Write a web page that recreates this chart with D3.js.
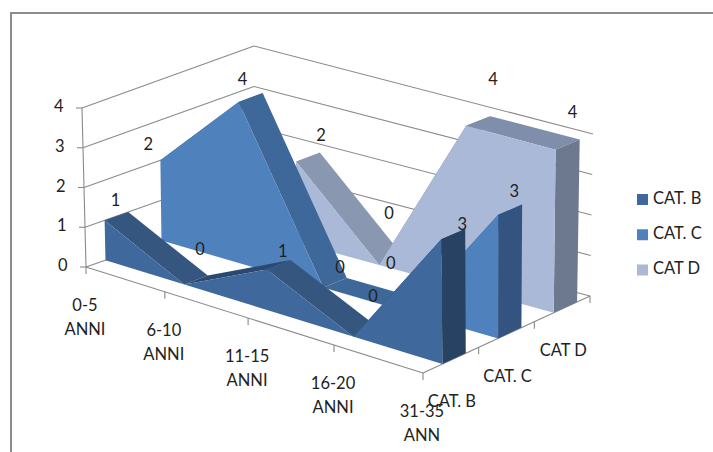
<!DOCTYPE html>
<html>
<head>
<meta charset="utf-8">
<script src="https://cdn.jsdelivr.net/npm/d3@7/dist/d3.min.js"></script>
<style>
html,body{margin:0;padding:0;background:#fff;}
svg{display:block;}
text{font-family:Lato,"Open Sans",sans-serif;fill:#222;}
</style>
</head>
<body>
<svg id="chart" width="713" height="452"></svg>
<script>
// Age bands along the front axis
const categories = ["0-5 ANNI", "6-10 ANNI", "11-15 ANNI", "16-20 ANNI", "31-35 ANN"];
// Series, listed front to back along the depth axis
const seriesNames = ["CAT. B", "CAT. C", "CAT D"];
const legendOrder = ["CAT. B", "CAT. C", "CAT D"];
const depthLabels = ["CAT. B", "CAT. C", "CAT D"];
const catB = [1, 0, 1, 0, 3];
const catC = [2, 4, 0, 0, 3];
const catD = [null, 2, 0, 4, 4];
const valueTicks = [0, 1, 2, 3, 4];

// Face colours per series: front, falling slope, rising slope, end cap
const shades = {
  "CAT. B": {front:"#3f689c", fall:"#35577f", rise:"#2b4870", cap:"#284264"},
  "CAT. C": {front:"#4f81bd", fall:"#3f689a", rise:"#3a5f90", cap:"#335480"},
  "CAT D":  {front:"#aab9d8", fall:"#8a97b0", rise:"#7f8eab", cap:"#6d798e"}
};
const gridColor = "#8a8a8a";
const fontSize = 16.5;

// Label offsets from the middle of each point's top edge
const labelNudge = {
  "CAT. B": [[-1,-14],[4,-29],[4,-12],[8,-34],[9,-8]],
  "CAT. C": [[-24,-10],[-8,-17],[5,-14],[-30,-43],[4,-17]],
  "CAT D":  [[0,0],[13,-20],[-2,-45],[15,-40],[5,-31]]
};

const svg = d3.select("#chart");

// Perspective box: the eight corners of the plot volume
const corners = {
  floor: {fl:[86,267], fr:[423,373], bl:[254,208], br:[590,296]},
  top:   {fl:[82,108], fr:[421,206], bl:[254,46],  br:[593,134]}
};
// Category spacing widens towards the viewer
const uScale = d3.scaleLinear().domain([0, 1, 2, 3, 4]).range([0, 0.234, 0.481, 0.736, 1]);
const vScale = d3.scaleLinear().domain([0, 4]).range([0, 1]);
const lerp = d3.interpolateNumber;

function planePoint(p, u, w) {
  const mix = (a, b, t) => lerp(a, b)(t);
  const front = [mix(p.fl[0], p.fr[0], u), mix(p.fl[1], p.fr[1], u)];
  const back  = [mix(p.bl[0], p.br[0], u), mix(p.bl[1], p.br[1], u)];
  return [mix(front[0], back[0], w), mix(front[1], back[1], w)];
}
// Maps category index, depth fraction and value to the page
function project(i, w, v) {
  const a = planePoint(corners.floor, uScale(i), w);
  const b = planePoint(corners.top, uScale(i), w);
  const t = vScale(v);
  return [lerp(a[0], b[0])(t), lerp(a[1], b[1])(t)];
}

// Each series occupies a slab inside its depth slot
const depthBand = d3.scaleBand().domain(seriesNames).range([0, 1])
  .paddingInner(0.58).paddingOuter(0.29).align(0.6);
const line = d3.line();
const closed = pts => line(pts) + "Z";

const gGrid = svg.append("g");
const grid = (a, b) => gGrid.append("line").attr("x1", a[0]).attr("y1", a[1]).attr("x2", b[0]).attr("y2", b[1])
  .attr("stroke", gridColor).attr("stroke-width", 1.1);

// Walls: left and back gridlines
valueTicks.forEach(v => {
  grid(project(0, 0, v), project(0, 1, v));
  grid(project(0, 1, v), project(categories.length - 1, 1, v));
  const p = project(0, 0, v);
  grid([p[0] - 6, p[1]], p);
});
grid(project(0, 0, 0), project(0, 0, 4));
grid(project(0, 0, 0), project(categories.length - 1, 0, 0));
grid(project(categories.length - 1, 0, 0), project(categories.length - 1, 1, 0));

// Tick marks on the two floor axes
categories.forEach((c, i) => {
  const p = project(i, 0, 0);
  grid(p, [p[0], p[1] + 7]);
});
d3.range(1, seriesNames.length + 1).forEach(k => {
  const p = project(categories.length - 1, k / seriesNames.length, 0);
  grid(p, [p[0], p[1] + 7]);
});

// Painter's order: rear slab first
const gSeries = svg.append("g");
const valuesBy = {"CAT. B": catB, "CAT. C": catC, "CAT D": catD};
seriesNames.slice().reverse().forEach(name => {
  const vals = valuesBy[name];
  const c = shades[name];
  const w0 = depthBand(name), w1 = w0 + depthBand.bandwidth();
  const idx = vals.map((v, i) => v == null ? -1 : i).filter(i => i >= 0);
  d3.pairs(idx).forEach(([a, b]) => {
    const fill = vals[b] > vals[a] ? c.rise : vals[b] === vals[a] && vals[a] > 0 ? c.rise : c.fall;
    gSeries.append("path").attr("fill", fill).attr("d", closed([
      project(a, w0, vals[a]), project(a, w1, vals[a]), project(b, w1, vals[b]), project(b, w0, vals[b])
    ]));
  });
  const last = idx[idx.length - 1];
  gSeries.append("path").attr("fill", c.cap).attr("d", closed([
    project(last, w0, vals[last]), project(last, w1, vals[last]), project(last, w1, 0), project(last, w0, 0)
  ]));
  const outline = idx.map(i => project(i, w0, vals[i]));
  outline.push(project(last, w0, 0), project(idx[0], w0, 0));
  gSeries.append("path").attr("fill", c.front).attr("d", closed(outline));
});

// Value labels above each point
const gText = svg.append("g").attr("font-size", fontSize);
seriesNames.forEach(name => {
  const w = depthBand(name) + depthBand.bandwidth() / 2;
  valuesBy[name].forEach((v, i) => {
    if (v == null) return;
    const p = project(i, w, v), n = labelNudge[name][i];
    gText.append("text").attr("x", p[0] + n[0]).attr("y", p[1] + n[1]).attr("text-anchor", "middle")
      .attr("dominant-baseline", "middle").text(v);
  });
});

// Value axis labels
valueTicks.forEach(v => {
  const p = project(0, 0, v);
  gText.append("text").attr("x", p[0] - 28).attr("y", p[1]).attr("dominant-baseline", "middle").text(v);
});

// Category labels wrap onto two lines
categories.forEach((c, i) => {
  const p = project(i, 0, 0);
  const t = gText.append("text").attr("text-anchor", "middle");
  c.split(" ").forEach((part, k) => t.append("tspan").attr("x", p[0] - 1).attr("y", p[1] + 44 + k * 24).text(part));
});

// Depth axis labels
depthLabels.forEach((d, k) => {
  const p = project(categories.length - 1, (k + 0.5) / depthLabels.length, 0);
  gText.append("text").attr("x", p[0] + 1).attr("y", p[1] + 47).attr("text-anchor", "middle").text(d);
});

// Legend
const legendY = d3.scalePoint().domain(legendOrder).range([199.5, 270]);
legendOrder.forEach(name => {
  const y = legendY(name);
  gText.append("rect").attr("x", 637).attr("y", y - 5.5).attr("width", 11).attr("height", 11).attr("fill", shades[name].front);
  gText.append("text").attr("x", 653).attr("y", y).attr("dominant-baseline", "middle").text(name);
});

// Chart border: left and top edges only
svg.append("path").attr("fill", "none").attr("stroke", "#8c8c8c").attr("stroke-width", 2)
  .attr("d", line([[11, 452], [11, 13], [713, 13]]));
</script>
</body>
</html>
